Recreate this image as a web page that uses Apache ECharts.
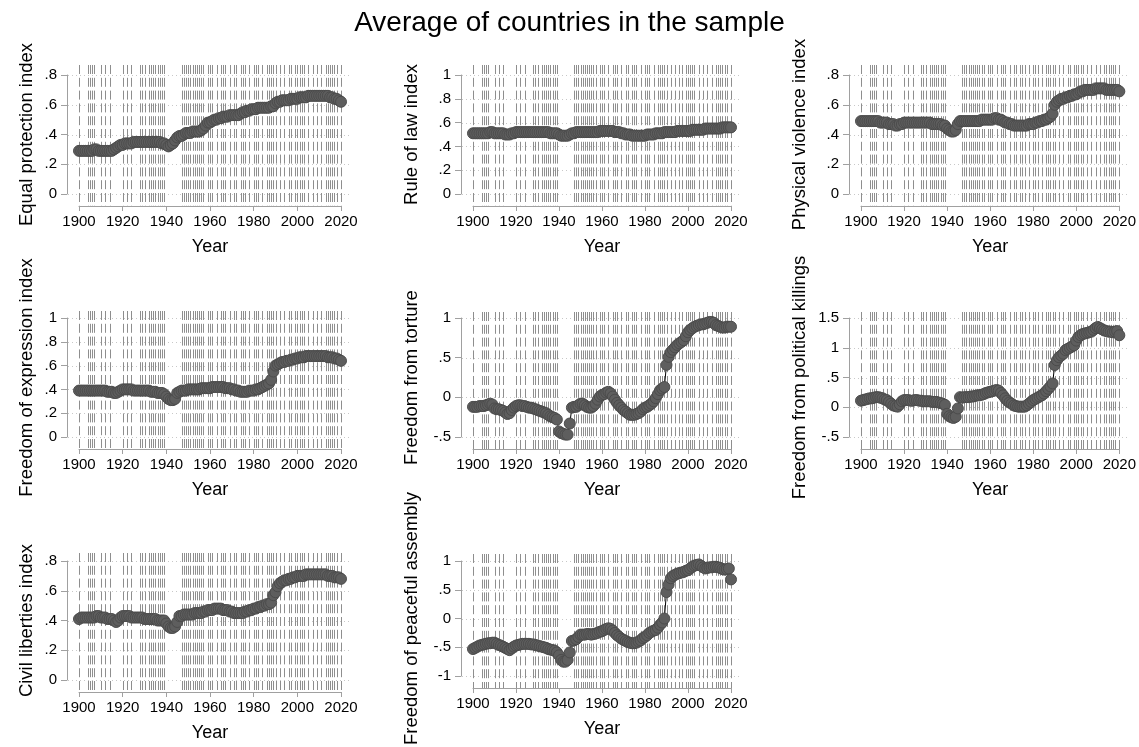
<!DOCTYPE html>
<html>
<head>
<meta charset="UTF-8">
<title>Average of countries in the sample</title>
<script src="https://cdn.jsdelivr.net/npm/echarts@6/dist/echarts.min.js"></script>
<style>
    html, body { margin: 0; padding: 0; background: #fff; }
    #chart { width: 1139px; height: 747px; }
</style>
</head>
<body>
<div id="chart"></div>
<script>
    // years on the x axis
    var years = [];
    for (var yr = 1900; yr <= 2020; yr++) years.push(yr);

    // years marked with a dashed vertical line
    var markYears = [1900, 1904, 1905, 1906, 1907, 1910, 1912, 1914, 1920, 1922, 1924,
        1928, 1929, 1930, 1932, 1933, 1934, 1935, 1936, 1937, 1938, 1939,
        1947, 1948, 1949, 1950, 1951, 1952, 1953, 1954, 1955, 1956, 1957, 1959, 1960, 1961, 1963,
        1965, 1966, 1967, 1969, 1971, 1972, 1974, 1975, 1976, 1978, 1980, 1981, 1982, 1984,
        1986, 1987, 1988, 1989, 1990, 1992, 1994, 1996, 1997, 1999, 2000, 2001, 2002, 2003,
        2005, 2007, 2009, 2011, 2013, 2014, 2015, 2016, 2017, 2018, 2020];

    var equalProtection = [
        .29, .29, .29, .29, .29, .29, .29, .30, .30, .29,
        .29, .29, .29, .29, .29, .29, .30, .31, .32, .33,
        .33, .34, .34, .34, .34, .35, .35, .35, .35, .35,
        .35, .35, .35, .35, .35, .35, .35, .35, .34, .34,
        .33, .32, .33, .34, .36, .38, .39, .39, .40, .41,
        .41, .41, .42, .42, .42, .42, .43, .44, .46, .48,
        .48, .49, .50, .50, .51, .51, .52, .52, .52, .53,
        .53, .53, .53, .53, .54, .55, .55, .56, .56, .57,
        .57, .57, .58, .58, .58, .58, .58, .58, .59, .59,
        .61, .62, .62, .63, .63, .63, .63, .64, .64, .64,
        .64, .65, .65, .65, .65, .66, .66, .66, .66, .66,
        .66, .66, .66, .66, .66, .65, .65, .64, .64, .63,
        .62];

    var ruleOfLaw = [
        .51, .51, .51, .51, .51, .51, .51, .51, .52, .52,
        .51, .51, .51, .51, .51, .50, .50, .50, .51, .51,
        .52, .52, .52, .52, .52, .52, .52, .52, .52, .52,
        .52, .52, .52, .52, .52, .52, .51, .51, .51, .51,
        .50, .49, .49, .49, .49, .50, .51, .51, .52, .52,
        .52, .52, .52, .52, .52, .52, .52, .52, .52, .53,
        .53, .53, .53, .53, .53, .53, .52, .52, .52, .51,
        .51, .50, .50, .50, .49, .49, .49, .49, .49, .49,
        .49, .50, .50, .50, .50, .51, .51, .51, .51, .52,
        .52, .52, .52, .52, .52, .53, .53, .53, .53, .53,
        .53, .53, .54, .54, .54, .54, .54, .54, .55, .55,
        .55, .55, .55, .55, .55, .55, .56, .56, .56, .56,
        .56];

    var physicalViolence = [
        .49, .49, .49, .49, .49, .49, .49, .49, .49, .48,
        .48, .48, .48, .47, .47, .47, .46, .46, .47, .47,
        .48, .48, .48, .48, .48, .48, .48, .48, .48, .48,
        .48, .48, .48, .47, .47, .47, .47, .47, .46, .46,
        .44, .43, .42, .42, .43, .47, .49, .49, .49, .49,
        .49, .49, .49, .49, .49, .49, .50, .50, .50, .50,
        .50, .50, .51, .51, .50, .50, .49, .48, .48, .47,
        .47, .46, .46, .46, .46, .46, .46, .46, .47, .47,
        .47, .48, .48, .49, .49, .50, .50, .51, .52, .54,
        .60, .62, .63, .64, .64, .65, .65, .66, .66, .67,
        .67, .68, .69, .69, .70, .70, .70, .70, .70, .71,
        .71, .71, .71, .71, .70, .70, .70, .70, .70, .70,
        .69];

    var freeExpression = [
        .39, .39, .39, .39, .39, .39, .39, .39, .39, .39,
        .39, .39, .39, .38, .38, .38, .37, .37, .38, .39,
        .40, .40, .40, .40, .40, .39, .39, .39, .39, .39,
        .39, .39, .39, .38, .38, .38, .37, .37, .37, .36,
        .34, .32, .31, .31, .32, .37, .38, .39, .39, .39,
        .40, .40, .40, .40, .40, .40, .41, .41, .41, .41,
        .41, .42, .42, .42, .42, .42, .42, .41, .41, .41,
        .40, .40, .39, .39, .38, .38, .38, .38, .39, .39,
        .39, .40, .40, .41, .42, .43, .44, .45, .48, .55,
        .60, .61, .62, .63, .63, .64, .64, .65, .65, .66,
        .66, .67, .67, .67, .68, .68, .68, .68, .68, .68,
        .68, .68, .68, .68, .67, .67, .67, .66, .66, .65,
        .64];

    var freeTorture = [
        -.12, -.12, -.12, -.11, -.11, -.11, -.10, -.09, -.08, -.09,
        -.14, -.15, -.15, -.16, -.17, -.19, -.21, -.20, -.16, -.13,
        -.11, -.10, -.10, -.11, -.11, -.12, -.13, -.13, -.14, -.15,
        -.16, -.17, -.18, -.19, -.20, -.22, -.24, -.25, -.26, -.28,
        -.43, -.45, -.46, -.47, -.47, -.33, -.13, -.12, -.12, -.10,
        -.08, -.08, -.10, -.12, -.13, -.13, -.11, -.08, -.03, .01,
        .03, .04, .06, .07, .05, .01, -.03, -.07, -.10, -.13,
        -.16, -.18, -.20, -.22, -.22, -.22, -.21, -.20, -.18, -.15,
        -.13, -.12, -.10, -.08, -.05, -.01, .04, .09, .11, .13,
        .41, .51, .57, .60, .63, .66, .68, .70, .72, .77,
        .82, .85, .87, .89, .90, .91, .92, .92, .93, .94,
        .95, .95, .94, .91, .90, .89, .88, .88, .89, .89,
        .89];

    var freeKillings = [
        .11, .12, .13, .14, .15, .15, .16, .17, .17, .16,
        .15, .13, .12, .09, .06, .03, .02, .01, .05, .10,
        .12, .12, .12, .11, .11, .12, .12, .11, .11, .10,
        .10, .10, .10, .09, .09, .09, .08, .07, .06, .04,
        -.11, -.15, -.17, -.18, -.16, -.02, .17, .16, .17, .17,
        .17, .18, .18, .19, .20, .20, .21, .22, .24, .25,
        .26, .27, .28, .29, .28, .24, .20, .15, .11, .08,
        .06, .03, .02, .01, .01, .01, .01, .03, .06, .09,
        .12, .14, .16, .18, .20, .23, .27, .31, .35, .40,
        .71, .79, .84, .87, .90, .96, .98, 1.00, 1.02, 1.04,
        1.12, 1.18, 1.21, 1.23, 1.24, 1.25, 1.26, 1.27, 1.30, 1.33,
        1.35, 1.33, 1.31, 1.29, 1.28, 1.27, 1.27, 1.26, 1.27, 1.28,
        1.21];

    var civilLiberties = [
        .41, .42, .42, .42, .42, .42, .42, .42, .43, .43,
        .42, .42, .42, .41, .41, .41, .40, .39, .40, .42,
        .43, .43, .43, .43, .42, .42, .42, .42, .42, .42,
        .41, .41, .41, .41, .41, .41, .40, .40, .40, .40,
        .38, .36, .35, .35, .36, .39, .43, .43, .44, .44,
        .44, .44, .44, .45, .45, .45, .45, .46, .46, .47,
        .47, .47, .48, .48, .48, .48, .47, .47, .47, .46,
        .46, .45, .45, .45, .45, .45, .46, .46, .47, .47,
        .48, .48, .49, .49, .50, .50, .51, .51, .52, .57,
        .59, .63, .65, .66, .67, .67, .68, .68, .69, .69,
        .70, .70, .70, .70, .71, .71, .71, .71, .71, .71,
        .71, .71, .71, .71, .70, .70, .70, .69, .69, .69,
        .68];

    var peacefulAssembly = [
        -.53, -.51, -.49, -.47, -.46, -.45, -.44, -.43, -.43, -.42,
        -.42, -.44, -.46, -.47, -.49, -.51, -.53, -.55, -.52, -.49,
        -.47, -.46, -.45, -.44, -.44, -.44, -.44, -.45, -.45, -.46,
        -.47, -.48, -.49, -.50, -.51, -.53, -.54, -.55, -.56, -.59,
        -.64, -.72, -.75, -.75, -.72, -.59, -.39, -.38, -.36, -.32,
        -.28, -.28, -.28, -.27, -.27, -.28, -.27, -.26, -.25, -.23,
        -.22, -.20, -.18, -.17, -.18, -.21, -.25, -.29, -.32, -.35,
        -.37, -.39, -.41, -.42, -.43, -.43, -.42, -.40, -.38, -.34,
        -.32, -.29, -.25, -.23, -.21, -.20, -.16, -.11, -.07, .00,
        .46, .59, .70, .74, .76, .78, .79, .80, .81, .83,
        .84, .87, .90, .92, .93, .94, .92, .89, .87, .88,
        .89, .89, .90, .90, .89, .88, .86, .85, .86, .87,
        .68];

    // panel titles and y scales
    var titles = ['Equal protection index', 'Rule of law index', 'Physical violence index',
        'Freedom of expression index', 'Freedom from torture', 'Freedom from political killings',
        'Civil liberties index', 'Freedom of peaceful assembly'];
    var series = [equalProtection, ruleOfLaw, physicalViolence, freeExpression,
        freeTorture, freeKillings, civilLiberties, peacefulAssembly];
    var yMin = [0, 0, 0, 0, -0.5, -0.5, 0, -1];
    var yMax = [0.8, 1, 0.8, 1, 1, 1.5, 0.8, 1];
    var yStep = [0.2, 0.2, 0.2, 0.2, 0.5, 0.5, 0.2, 0.5];

    // layout (pixels)
    var colLeft = [79, 473, 861];
    var colWidth = [262, 258, 259];
    var rowTop = [75, 318, 561];
    var rowHeight = 119;
    var topPad = [10, 10, 10, 7, 6, 6, 8, 7];
    var nameGapY = [31, 40, 40];
    var font = "'Liberation Sans', Arial, Helvetica, sans-serif";

    function fmt(v) {
        var r = Math.round(v * 10) / 10;
        var s = String(r);
        return s.replace(/^0\./, '.').replace(/^-0\./, '-.');
    }

    var chart = echarts.init(document.getElementById('chart'), null, {renderer: 'canvas'});

    var grids = [], xAxes = [], yAxes = [], allSeries = [];
    for (var i = 0; i < series.length; i++) {
        var col = i % 3, row = Math.floor(i / 3);
        grids.push({left: colLeft[col], top: rowTop[row], width: colWidth[col], height: rowHeight, containLabel: false});
        xAxes.push({
            gridIndex: i, type: 'value', min: 1900, max: 2020, interval: 20, offset: 12,
            name: 'Year', nameLocation: 'middle', nameGap: 32,
            nameTextStyle: {fontFamily: font, fontSize: 18, color: '#000'},
            axisLine: {show: true, onZero: false, lineStyle: {color: '#a0a0a0', width: 1}},
            axisTick: {show: true, length: 5, lineStyle: {color: '#a0a0a0'}},
            axisLabel: {fontFamily: font, fontSize: 15, color: '#000', margin: 8,
                showMinLabel: true, showMaxLabel: true,
                formatter: function (v) { return String(v); }},
            splitLine: {show: false}
        });
        yAxes.push({
            gridIndex: i, type: 'value', min: yMin[i], max: yMax[i], interval: yStep[i], offset: 12,
            name: titles[i], nameLocation: 'middle', nameGap: nameGapY[col], nameRotate: 90,
            nameTextStyle: {fontFamily: font, fontSize: 18.5, color: '#000'},
            axisLine: {show: true, onZero: false, lineStyle: {color: '#a0a0a0', width: 1}},
            axisTick: {show: true, length: 6, lineStyle: {color: '#a0a0a0'}},
            axisLabel: {fontFamily: font, fontSize: 15, color: '#000', margin: 10, formatter: fmt,
                showMinLabel: true, showMaxLabel: true},
            splitLine: {show: false}
        });

        // dotted horizontal grid lines at the y ticks
        var ticks = [];
        for (var t = yMin[i]; t <= yMax[i] + 1e-9; t += yStep[i]) ticks.push([1900, Math.round(t * 10) / 10]);
        allSeries.push({
            type: 'custom', xAxisIndex: i, yAxisIndex: i, silent: true, z: 1,
            data: ticks,
            renderItem: function (params, api) {
                var cs = params.coordSys;
                var y = Math.round(api.coord([api.value(0), api.value(1)])[1]) + 0.5;
                return {
                    type: 'line',
                    shape: {x1: cs.x - 11, y1: y, x2: cs.x + cs.width + 9, y2: y},
                    style: {stroke: '#c8c8c8', lineWidth: 1, lineDash: [1, 3]}
                };
            }
        });

        // dashed vertical lines at the marked years
        (function (pad) {
            allSeries.push({
                type: 'custom', xAxisIndex: i, yAxisIndex: i, silent: true, z: 2,
                data: markYears.map(function (m) { return [m, yMin[i]]; }),
                renderItem: function (params, api) {
                    var cs = params.coordSys;
                    var x = Math.round(api.coord([api.value(0), api.value(1)])[0]) + 0.5;
                    return {
                        type: 'line',
                        shape: {x1: x, y1: cs.y - pad, x2: x, y2: cs.y + cs.height + 12},
                        style: {stroke: '#8e8e8e', lineWidth: 1, lineDash: [9, 3.8]}
                    };
                }
            });
        })(topPad[i]);

        allSeries.push({
            type: 'line', xAxisIndex: i, yAxisIndex: i, z: 3,
            data: years.map(function (y, k) { return [y, series[i][k]]; }),
            symbol: 'circle', symbolSize: 11, showSymbol: true, showAllSymbol: true,
            itemStyle: {color: '#5e5e5e', borderColor: '#4c4c4c', borderWidth: 1},
            lineStyle: {color: '#000', width: 1},
            emphasis: {disabled: true},
            silent: true
        });
    }

    chart.setOption({
        animation: false,
        backgroundColor: '#fff',
        title: {
            text: 'Average of countries in the sample', left: 'center', top: 4,
            textStyle: {fontFamily: font, fontSize: 28, fontWeight: 'normal', color: '#000'}
        },
        grid: grids,
        xAxis: xAxes,
        yAxis: yAxes,
        series: allSeries
    });
</script>
</body>
</html>
